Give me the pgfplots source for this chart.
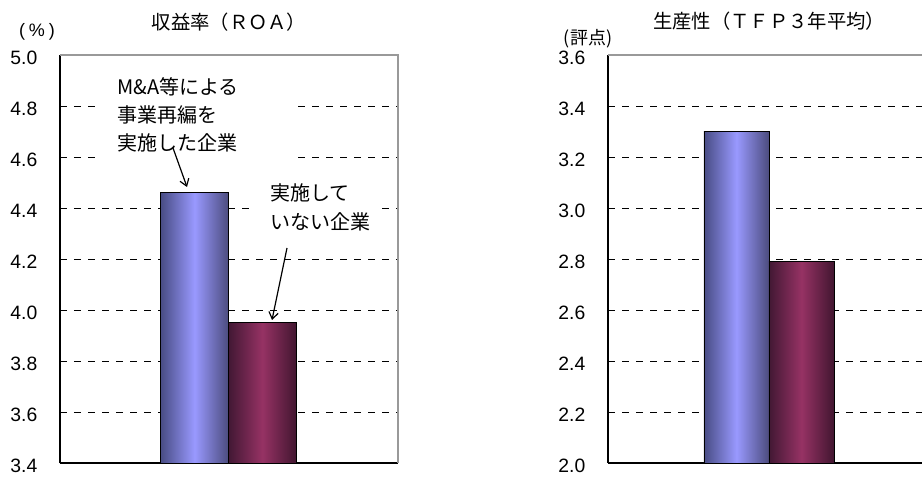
\documentclass[border=0pt]{standalone}
\usepackage{pgfplots}
\pgfplotsset{compat=1.18}
\usepackage{fontspec}
\setmainfont{Liberation Sans}
\newfontfamily\cjk{Noto Sans CJK JP}
\usetikzlibrary{arrows.meta}
\definecolor{blueL}{RGB}{72,76,132}
\definecolor{blueM}{RGB}{153,153,255}
\definecolor{blueR}{RGB}{76,76,126}
\definecolor{redL}{RGB}{66,24,52}
\definecolor{redM}{RGB}{150,50,100}
\definecolor{redR}{RGB}{66,22,48}
\pgfplotsset{
  panel/.style={
    scale only axis,
    height=306pt,
    axis x line*=bottom,
    axis y line*=left,
    axis line style={black, line width=0.9pt},
    xtick=\empty,
    ytick distance=0.2,
    tick align=inside,
    major tick length=4pt,
    tick style={black, line width=0.6pt},
    /pgf/number format/assume math mode=true,
    yticklabel style={font=\fontsize{14.5}{16}\selectfont, /pgf/number format/fixed, /pgf/number format/fixed zerofill, /pgf/number format/precision=1, xshift=-13.5pt, yshift=-2pt},
    ymajorgrids,
    grid style={black, line width=0.6pt, dash pattern=on 5.5pt off 5pt},
  },
  bluebar/.style={draw=black, line width=0.5pt, left color=blueL, right color=blueR, middle color=blueM},
  redbar/.style={draw=black, line width=0.5pt, left color=redL, right color=redR, middle color=redM},
}
\begin{document}
\begin{tikzpicture}
\useasboundingbox (0,0) rectangle (691.5pt,357.75pt);
\clip (0,0) rectangle (691.5pt,357.75pt);
% left panel: bars from the axis floor (3.4) to the value
\begin{axis}[panel, at={(45pt,10.5pt)}, anchor=south west, width=253.5pt,
  xmin=-2.485, xmax=2.5, ymin=3.4, ymax=5.0]
  \addplot[bluebar] coordinates {(-1,3.4) (-1,4.46) (0,4.46) (0,3.4)} -- cycle;
  \addplot[redbar] coordinates {(0,3.4) (0,3.95) (1,3.95) (1,3.4)} -- cycle;
\end{axis}
\draw[gray!80, line width=0.8pt] (45pt,316.5pt) -- (298.5pt,316.5pt) -- (298.5pt,10.5pt);
% right panel
\begin{axis}[panel, at={(456pt,10.5pt)}, anchor=south west, width=242.6pt,
  xmin=-2.477, xmax=2.5, ymin=2.0, ymax=3.6]
  \addplot[bluebar] coordinates {(-1,2.0) (-1,3.30) (0,3.30) (0,2.0)} -- cycle;
  \addplot[redbar] coordinates {(0,2.0) (0,2.79) (1,2.79) (1,2.0)} -- cycle;
\end{axis}
\draw[gray!80, line width=0.8pt] (456pt,316.5pt) -- (698.6pt,316.5pt);
% titles and units
\node[font=\cjk\fontsize{14.5}{16}\selectfont] at (171.75pt,341.25pt) {収益率（ＲＯＡ）};
\node[font=\cjk\fontsize{14.5}{16}\selectfont] at (576.75pt,342pt) {生産性（ＴＦＰ３年平均）};
\node[font=\fontsize{13.5}{15}\selectfont] at (27.75pt,333.75pt) {(\hspace{3pt}\%\hspace{3pt})};
\node[font=\cjk\fontsize{13.5}{15}\selectfont] at (441pt,328.5pt) {(評点)};
% annotations
\fill[white] (75pt,234pt) rectangle (219pt,305.25pt);
\fill[white] (189.75pt,177.75pt) rectangle (286.5pt,226.5pt);
\begin{scope}[every node/.style={font=\cjk\fontsize{15}{17}\selectfont, anchor=west, inner sep=0pt}]
\node at (87.75pt,292.5pt) {M\&A等による};
\node at (87.75pt,271.5pt) {事業再編を};
\node at (87.75pt,250.5pt) {実施した企業};
\node at (202.5pt,213pt) {実施して};
\node at (202.5pt,191.25pt) {いない企業};
\end{scope}
\draw[line width=0.9pt, -{Straight Barb[length=5pt, width=7pt]}] (129.75pt,246.75pt) -- (140.25pt,217.5pt);
\draw[line width=0.9pt, -{Straight Barb[length=5pt, width=7pt]}] (215.25pt,171.75pt) -- (204pt,117.75pt);
\end{tikzpicture}
\end{document}
